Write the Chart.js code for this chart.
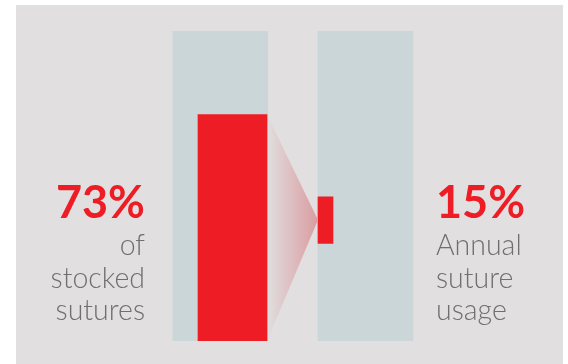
<!DOCTYPE html>
<html>
<head>
<meta charset="utf-8">
<script src="https://cdn.jsdelivr.net/npm/chart.js@4.4.1/dist/chart.umd.min.js"></script>
<style>
  html, body { margin: 0; padding: 0; background: #ffffff; }
  #wrap { position: relative; width: 568px; height: 364px; overflow: hidden; background: #ffffff; }
  #panel { position: absolute; left: 16px; top: 5px; width: 547px; height: 359px; background: #e1dfe0; }
  #c { position: absolute; left: 0; top: 0; }
  .lbl { position: absolute; font-family: Lato, "Open Sans", sans-serif; white-space: nowrap; }
  .big { font-size: 45px; line-height: 54px; font-weight: 700; color: #ee1c25; }
  .small { font-size: 28.5px; line-height: 32.5px; font-weight: 300; color: #6f6f6f; }
  .left { right: 423px; text-align: right; }
  .right { left: 436px; text-align: left; }
</style>
</head>
<body>
<div id="wrap">
  <div id="panel"></div>
  <canvas id="c" width="568" height="364"></canvas>
  <div id="lblL1" class="lbl big left" style="top:174px"></div>
  <div id="lblL2" class="lbl small left" style="top:228px"></div>
  <div id="lblR1" class="lbl big right" style="top:174px"></div>
  <div id="lblR2" class="lbl small right" style="top:228px"></div>
</div>
<script>
// ---- data ----
const categories = ['Stocked sutures', 'Annual suture usage'];
const shareValues = [73, 15];          // percent
const fullScale = [100, 100];          // background column (100%)
const captions = [['of', 'stocked', 'sutures'], ['Annual', 'suture', 'usage']];
const usageBarMid = 39;                // vertical centre of the floating usage bar (percent scale)

// ---- text ----
document.getElementById('lblL1').textContent = shareValues[0] + '%';
document.getElementById('lblR1').textContent = shareValues[1] + '%';
document.getElementById('lblL2').innerHTML = captions[0].map(s => '<div>' + s + '</div>').join('');
document.getElementById('lblR2').innerHTML = captions[1].map(s => '<div>' + s + '</div>').join('');

// ---- funnel plugin: gradient wedge from big bar to small bar ----
const funnel = {
  id: 'funnel',
  afterDatasetsDraw(chart) {
    const a = chart.getDatasetMeta(1).data[0];
    const b = chart.getDatasetMeta(2).data[0];
    if (!a || !b) return;
    const x0 = a.x + a.width / 2;
    const x1 = b.x - b.width / 2;
    const top = Math.min(a.y, a.base), bot = Math.max(a.y, a.base);
    const mid = (b.y + b.base) / 2;
    const ctx = chart.ctx;
    const g = ctx.createLinearGradient(x0, 0, x1, 0);
    g.addColorStop(0, 'rgba(218,156,160,0)');
    g.addColorStop(1, 'rgba(218,156,160,1)');
    ctx.save();
    ctx.beginPath();
    ctx.moveTo(x0, top);
    ctx.lineTo(x1, mid);
    ctx.lineTo(x0, bot);
    ctx.closePath();
    ctx.fillStyle = g;
    ctx.fill();
    ctx.restore();
  }
};

const colX = [0, 1];
new Chart(document.getElementById('c'), {
  type: 'bar',
  data: {
    labels: categories,
    datasets: [
      {
        label: 'Full',
        data: colX.map((x, i) => ({ x: x, y: fullScale[i] })),
        backgroundColor: '#cbd6d8',
        barThickness: 95,
        grouped: false,
        order: 3
      },
      {
        label: categories[0],
        data: [{ x: colX[0] + 0.084, y: [0, shareValues[0]] }],
        backgroundColor: '#ee1c25',
        barThickness: 69,
        grouped: false,
        order: 1
      },
      {
        label: categories[1],
        data: [{ x: colX[1] - 0.2755, y: [usageBarMid - shareValues[1] / 2, usageBarMid + shareValues[1] / 2] }],
        backgroundColor: '#ee1c25',
        barThickness: 15,
        grouped: false,
        order: 1
      }
    ]
  },
  options: {
    responsive: false,
    animation: false,
    devicePixelRatio: 1,
    layout: { padding: { left: 147.7, right: 129.9, top: 31, bottom: 23 } },
    scales: {
      x: { type: 'linear', min: -0.5, max: 1.5, offset: false, display: false },
      y: { min: 0, max: 100, display: false }
    },
    plugins: { legend: { display: false }, tooltip: { enabled: false } }
  },
  plugins: [funnel]
});
</script>
</body>
</html>
